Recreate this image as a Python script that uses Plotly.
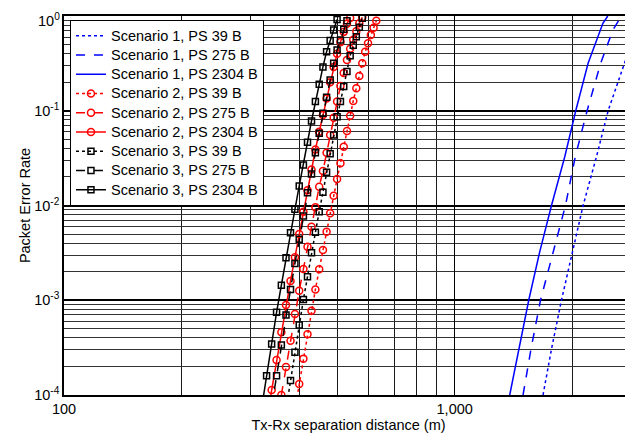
import math
import plotly.graph_objects as go

# ---------------- data ----------------
# Scenario 1 (blue, lines only)
s1_39_d = [1683, 1772, 1876, 2000, 2131, 2306, 2470, 2720, 2856, 2950]
s1_39_per = [1e-4, 3.16e-4, 1e-3, 3.13e-3, 1e-2, 3.27e-2, 0.1, 0.317, 0.58, 1.0]

s1_275_d = [1496, 1570, 1658, 1781, 1921, 2035, 2182, 2364, 2540, 2673]
s1_275_per = [1e-4, 3.16e-4, 1e-3, 3.16e-3, 1e-2, 3.27e-2, 0.1, 0.317, 0.712, 1.0]

s1_2304_d = [1383, 1462, 1547, 1648, 1769, 1913, 2041, 2195, 2288, 2395, 2465]
s1_2304_per = [1e-4, 3.16e-4, 1e-3, 3.16e-3, 1e-2, 3.27e-2, 0.1, 0.317, 0.515, 0.837, 1.0]

# Scenario 2 (red, circles)
s2_39_d = [390, 400, 410, 420, 430, 440, 450, 460, 470, 480, 490, 500, 510, 520,
           530, 540, 550, 560, 570, 580, 590, 600, 610, 620, 630]
s2_39_per = [7e-5, 1.31e-4, 2.42e-4, 4.37e-4, 7.76e-4, 1.30e-3, 2.12e-3, 3.39e-3,
             5.28e-3, 8.27e-3, 1.27e-2, 1.90e-2, 2.79e-2, 4.17e-2, 6.11e-2, 8.87e-2,
             0.127, 0.173, 0.233, 0.317, 0.42, 0.515, 0.63, 0.752, 0.892]

s2_275_d = [360, 370, 380, 390, 400, 410, 420, 430, 440, 450, 460, 470, 480, 490,
            500, 510, 520, 530, 540, 550, 560, 570, 580]
s2_275_per = [1.0e-4, 1.98e-4, 3.74e-4, 7.16e-4, 1.26e-3, 2.14e-3, 3.67e-3, 5.97e-3,
              9.57e-3, 1.58e-2, 2.31e-2, 3.61e-2, 5.55e-2, 8.45e-2, 0.125, 0.183,
              0.25, 0.343, 0.45, 0.56, 0.69, 0.84, 0.97]

s2_2304_d = [330, 340, 350, 360, 370, 380, 390, 400, 410, 420, 430, 440, 450, 460,
             470, 480, 490, 500, 510, 520, 530, 540]
s2_2304_per = [5.5e-5, 1.13e-4, 2.34e-4, 4.59e-4, 8.9e-4, 1.6e-3, 2.84e-3, 5.0e-3,
               8.6e-3, 1.45e-2, 2.4e-2, 3.9e-2, 6.0e-2, 9.0e-2, 0.135, 0.2, 0.29,
               0.4, 0.53, 0.68, 0.83, 0.95]

# Scenario 3 (black, squares)
s3_39_d = [370, 380, 390, 400, 410, 420, 430, 440, 450, 460, 470, 480, 490, 500,
           510, 520, 530, 540, 550, 560, 570, 580]
s3_39_per = [7e-5, 1.42e-4, 2.82e-4, 5.48e-4, 1.02e-3, 1.77e-3, 3.18e-3, 5.21e-3,
             8.61e-3, 1.38e-2, 2.24e-2, 3.52e-2, 5.55e-2, 8.65e-2, 0.125, 0.18,
             0.26, 0.38, 0.49, 0.605, 0.76, 0.946]

s3_275_d = [340, 350, 360, 370, 380, 390, 400, 410, 420, 430, 440, 450, 460, 470,
            480, 490, 500, 510, 520, 530]
s3_275_per = [7.5e-5, 1.6e-4, 3.37e-4, 6.99e-4, 1.3e-3, 2.45e-3, 4.4e-3, 7.74e-3,
              1.36e-2, 2.15e-2, 3.61e-2, 5.78e-2, 9.4e-2, 0.139, 0.211, 0.317,
              0.438, 0.558, 0.724, 0.892]

s3_2304_d = [320, 330, 340, 350, 360, 370, 380, 390, 400, 410, 420, 430, 440, 450,
             460, 470, 480, 490, 500]
s3_2304_per = [7e-5, 1.6e-4, 3.45e-4, 7.46e-4, 1.44e-3, 2.81e-3, 5.16e-3, 9.12e-3,
               1.61e-2, 2.67e-2, 4.65e-2, 7.8e-2, 0.125, 0.19, 0.29, 0.42, 0.55,
               0.71, 0.92]

x_tick_vals = [100, 1000]
x_tick_text = ["100", "1,000"]
x_minor_vals = [200, 300, 400, 500, 600, 700, 800, 900, 2000]
y_tick_vals = [1e-4, 1e-3, 1e-2, 1e-1, 1]
y_tick_text = ["10<sup>-4</sup>", "10<sup>-3</sup>", "10<sup>-2</sup>",
               "10<sup>-1</sup>", "10<sup>0</sup>"]
y_minor_vals = [m * 10.0 ** k for k in range(-4, 0) for m in range(2, 10)]

# ---------------- figure ----------------
FONT = "Liberation Sans, Arial, Helvetica, sans-serif"
fig = go.Figure()

def add(name, d, per, color, dash, symbol=None, msize=7):
    kw = {}
    if symbol:
        mode = "lines+markers"
        kw["marker"] = dict(symbol=symbol, size=msize, color=color,
                            line=dict(color=color, width=1.5))
    else:
        mode = "lines"
    label = '<span style="font-size:14.5px">' + name + "</span>"
    fig.add_trace(go.Scatter(x=d, y=per, name=label, mode=mode,
                             line=dict(color=color, width=1.5, dash=dash), **kw))

BLUE, RED, BLACK = "#0000ff", "#ff0000", "#000000"
add("Scenario 1, PS 39 B", s1_39_d, s1_39_per, BLUE, "dot")
add("Scenario 1, PS 275 B", s1_275_d, s1_275_per, BLUE, "dash")
add("Scenario 1, PS 2304 B", s1_2304_d, s1_2304_per, BLUE, "solid")
add("Scenario 2, PS 39 B", s2_39_d, s2_39_per, RED, "dot", "circle-open", 7)
add("Scenario 2, PS 275 B", s2_275_d, s2_275_per, RED, "dash", "circle-open", 7)
add("Scenario 2, PS 2304 B", s2_2304_d, s2_2304_per, RED, "solid", "circle-open", 7)
add("Scenario 3, PS 39 B", s3_39_d, s3_39_per, BLACK, "dot", "square-open", 6)
add("Scenario 3, PS 275 B", s3_275_d, s3_275_per, BLACK, "dash", "square-open", 6)
add("Scenario 3, PS 2304 B", s3_2304_d, s3_2304_per, BLACK, "solid", "square-open", 6)

# the top tick label would be clipped by the page edge; it is drawn as an
# annotation nudged just inside the figure instead
axis_tick_text = y_tick_text[:-1] + [""]
top_label = dict(text=y_tick_text[-1], x=0, xref="paper", xanchor="right",
                 y=math.log10(y_tick_vals[-1]), yref="y", yanchor="middle",
                 xshift=-2, yshift=-4, showarrow=False,
                 font=dict(family=FONT, size=14.5, color="black"))

# page body has an 8px margin, so the figure is 8px smaller than the window
fig.update_layout(
    width=625, height=426,
    margin=dict(l=56, r=0, t=8, b=39),
    paper_bgcolor="white", plot_bgcolor="white",
    font=dict(family=FONT, size=14.5, color="black"),
    showlegend=True,
    legend=dict(x=0.0105, y=0.989, xanchor="left", yanchor="top",
                bgcolor="white", bordercolor="black", borderwidth=1,
                font=dict(family=FONT, size=12.5, color="black"),
                tracegroupgap=0, itemwidth=30),
    annotations=[top_label],
)

fig.update_xaxes(
    type="log", range=[2, math.log10(2860)],
    tickmode="array", tickvals=x_tick_vals, ticktext=x_tick_text,
    ticks="inside", ticklen=5, tickcolor="black",
    showgrid=True, gridcolor="#000000", gridwidth=1,
    showline=True, linecolor="black", linewidth=2, mirror=True,
    zeroline=False, automargin=False,
    minor=dict(tickmode="array", tickvals=x_minor_vals, showgrid=True,
               gridcolor="#1a1a1a", gridwidth=1, ticks=""),
    title=dict(text="Tx-Rx separation distance (m)", font=dict(size=14.5), standoff=2),
    tickfont=dict(size=14.5),
)
fig.update_yaxes(
    type="log", range=[-4, 0],
    tickmode="array", tickvals=y_tick_vals, ticktext=axis_tick_text,
    ticks="inside", ticklen=5, tickcolor="black",
    showgrid=True, gridcolor="#000000", gridwidth=1.5,
    showline=True, linecolor="black", linewidth=1.5, mirror=False,
    zeroline=False, automargin=False,
    minor=dict(tickmode="array", tickvals=y_minor_vals, showgrid=True,
               gridcolor="#333333", gridwidth=1, ticks=""),
    title=dict(text="Packet Error Rate", font=dict(size=14.5), standoff=0),
    tickfont=dict(size=14.5),
)

fig.write_html("out.html")
